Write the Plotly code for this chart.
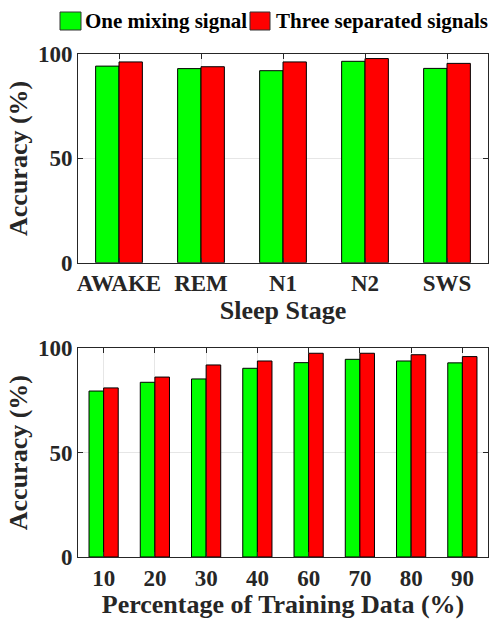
import plotly.graph_objects as go

stages = ["AWAKE", "REM", "N1", "N2", "SWS"]
stage_one = [94.2, 93.0, 92.0, 96.5, 93.1]
stage_three = [96.2, 93.9, 96.2, 97.8, 95.5]

train_pct = ["10", "20", "30", "40", "60", "70", "80", "90"]
train_one = [79.5, 83.7, 85.3, 90.4, 93.1, 94.7, 93.9, 93.0]
train_three = [81.0, 86.2, 92.0, 93.9, 97.6, 97.6, 96.9, 96.0]

y_ticks = [0, 50, 100]
series_names = ["One mixing signal", "Three separated signals"]

GREEN = "#00FF00"
RED = "#FF0000"
AX = "#262626"
FONT = "Times New Roman, Liberation Serif, serif"

W, H = 489, 619
ML, MR, MT, MB = 78, 1, 54, 62
PW = W - ML - MR
PH = H - MT - MB


def px_x(p):
    return (p - ML) / PW


def px_y(p):
    return (H - MB - p) / PH


fig = go.Figure()
fig.add_trace(go.Bar(x=stages, y=stage_one, name=series_names[0],
                     marker=dict(color=GREEN, line=dict(color="black", width=1)),
                     xaxis="x", yaxis="y"))
fig.add_trace(go.Bar(x=stages, y=stage_three, name=series_names[1],
                     marker=dict(color=RED, line=dict(color="black", width=1)),
                     xaxis="x", yaxis="y"))
fig.add_trace(go.Bar(x=train_pct, y=train_one, name=series_names[0],
                     marker=dict(color=GREEN, line=dict(color="black", width=1)),
                     xaxis="x2", yaxis="y2"))
fig.add_trace(go.Bar(x=train_pct, y=train_three, name=series_names[1],
                     marker=dict(color=RED, line=dict(color="black", width=1)),
                     xaxis="x2", yaxis="y2"))

tickfont = dict(family=FONT, size=23, color=AX, weight="bold")
titlefont = dict(family=FONT, size=26, color=AX, weight="bold")

common_x = dict(type="category", showline=True, linecolor=AX, linewidth=1,
                mirror="allticks", ticks="inside", ticklen=5, tickcolor=AX,
                showgrid=True, gridcolor="#e6e6e6", gridwidth=1,
                tickfont=tickfont, zeroline=False)
common_y = dict(range=[0, 100], tickvals=y_ticks, showline=True, linecolor=AX,
                linewidth=1, mirror="allticks", ticks="inside", ticklen=5,
                tickcolor=AX, showgrid=True, gridcolor="#e6e6e6", gridwidth=1,
                tickfont=tickfont, zeroline=False)

# legend drawn as swatches + labels above the top panel
legend_items = [
    (GREEN, series_names[0], 60, 81, 83),
    (RED, series_names[1], 250, 270, 274),
]
shapes = []
annotations = []
for color, label, x0, x1, tx in legend_items:
    shapes.append(dict(type="rect", xref="paper", yref="paper",
                       x0=px_x(x0), x1=px_x(x1), y0=px_y(30), y1=px_y(12),
                       fillcolor=color, line=dict(color="#333333", width=1)))
    annotations.append(dict(xref="paper", yref="paper", x=px_x(tx), y=px_y(21),
                            xanchor="left", yanchor="middle", showarrow=False,
                            text=label,
                            font=dict(family=FONT, size=21, color="black", weight="bold")))

fig.update_layout(
    width=W, height=H,
    margin=dict(l=ML, r=MR, t=MT, b=MB, autoexpand=False),
    paper_bgcolor="white", plot_bgcolor="white",
    barmode="group", bargap=0.43, bargroupgap=0,
    showlegend=False,
    xaxis=dict(common_x, domain=[0, 1], anchor="y", range=[-0.5, 4.5],
               title=dict(text="Sleep Stage", font=titlefont, standoff=4)),
    yaxis=dict(common_y, domain=[0.585, 1], anchor="x",
               title=dict(text="Accuracy (%)", font=titlefont, standoff=2)),
    xaxis2=dict(common_x, domain=[0, 1], anchor="y2", range=[-0.5, 7.5],
                title=dict(text="Percentage of Training Data (%)", font=titlefont, standoff=4)),
    yaxis2=dict(common_y, domain=[0, 0.415], anchor="x2",
                title=dict(text="Accuracy (%)", font=titlefont, standoff=2)),
    shapes=shapes,
    annotations=annotations,
)

fig.write_html("out.html")
